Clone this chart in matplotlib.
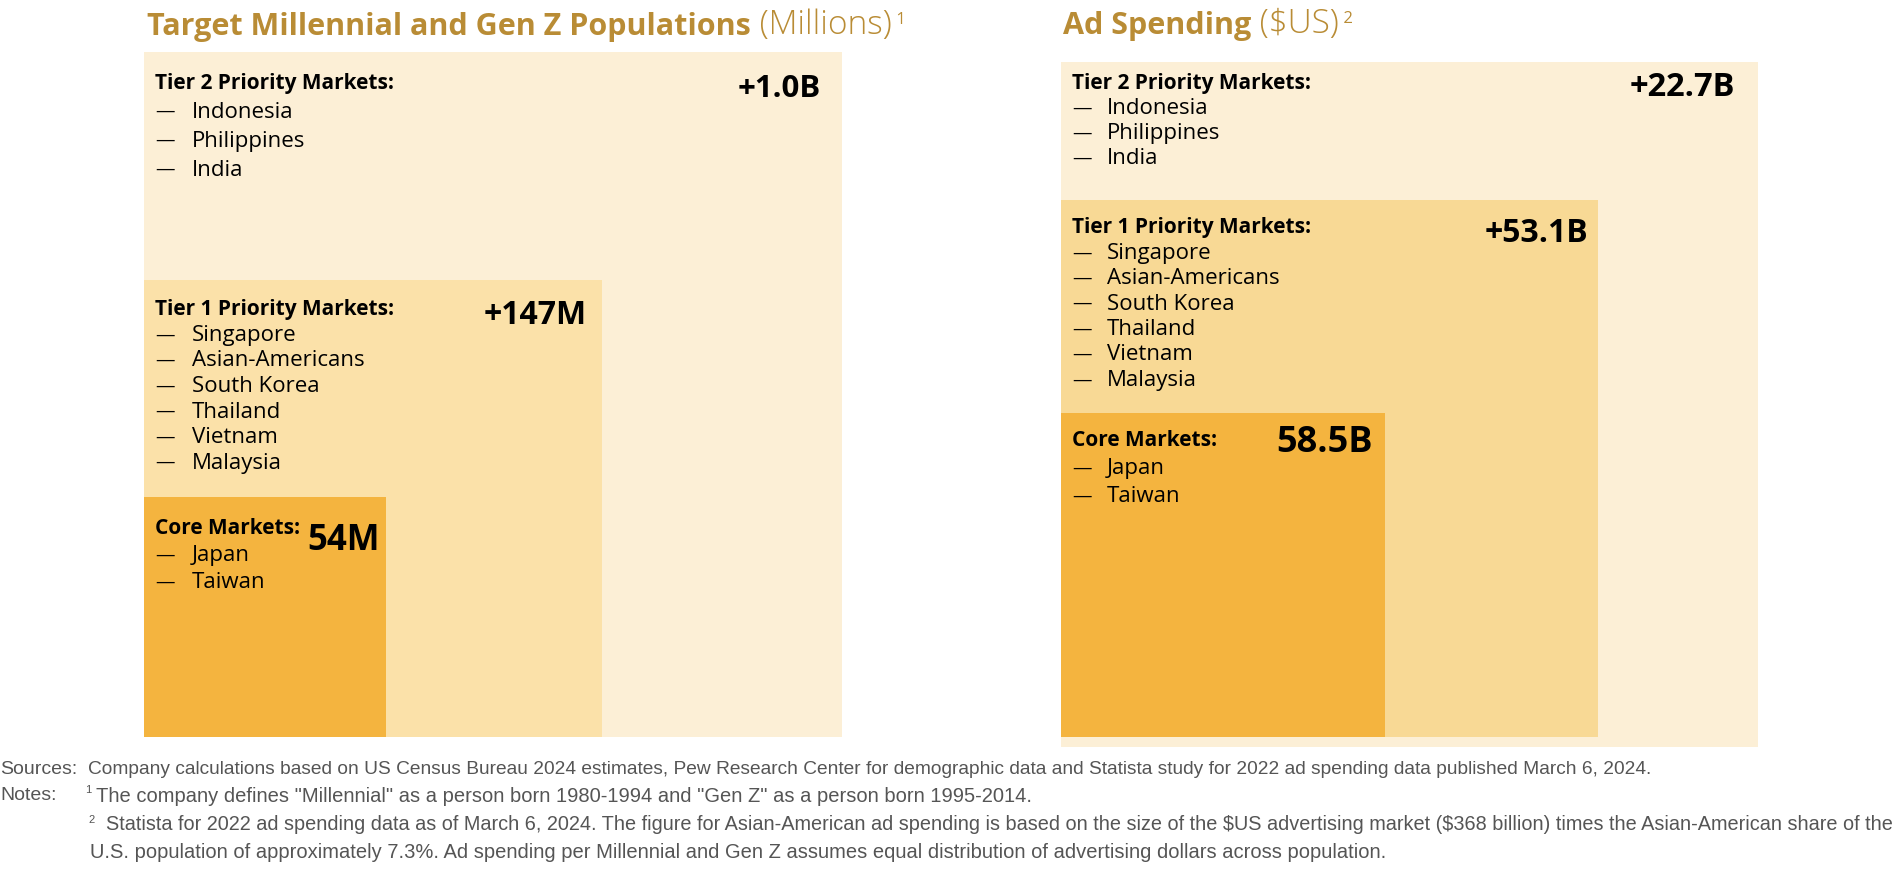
import matplotlib
matplotlib.use("Agg")
import matplotlib.pyplot as plt
from matplotlib.patches import Rectangle

# ---------------- data ----------------
tiers = ["Core Markets:", "Tier 1 Priority Markets:", "Tier 2 Priority Markets:"]
core_markets = ["Japan", "Taiwan"]
tier1_markets = ["Singapore", "Asian-Americans", "South Korea", "Thailand", "Vietnam", "Malaysia"]
tier2_markets = ["Indonesia", "Philippines", "India"]
pop_values = ["54M", "+147M", "+1.0B"]
ad_values = ["58.5B", "+53.1B", "+22.7B"]
pop_title = "Target Millennial and Gen Z Populations"
pop_unit = "(Millions)"
ad_title = "Ad Spending"
ad_unit = "($US)"
sources = ("Company calculations based on US Census Bureau 2024 estimates, Pew Research Center for demographic "
           "data and Statista study for 2022 ad spending data published March 6, 2024.")
note1 = "The company defines \"Millennial\" as a person born 1980-1994 and \"Gen Z\" as a person born 1995-2014."
note2a = ("Statista for 2022 ad spending data as of March 6, 2024. The figure for Asian-American ad spending is based "
          "on the size of the $US advertising market ($368 billion) times the Asian-American share of the")
note2b = ("U.S. population of approximately 7.3%. Ad spending per Millennial and Gen Z assumes equal distribution "
          "of advertising dollars across population.")

# ---------------- layout (pixels) ----------------
W, H = 1897, 869
fig = plt.figure(figsize=(W / 100, H / 100), dpi=100)
ax = fig.add_axes([0, 0, 1, 1])
ax.set_xlim(0, W)
ax.set_ylim(H, 0)
ax.axis("off")

TITLE_C = "#B98C35"
HEAD_F = "Open Sans"
BODY_F = "Open Sans"
NOTE_F = ["Liberation Sans", "DejaVu Sans"]

# boxes: (x0, y0, x1, y1) for core, tier1, tier2
pop_boxes = [(144, 497, 386, 737), (144, 280, 602, 737), (144, 52, 842, 737)]
ad_boxes = [(1061, 413, 1385, 737), (1061, 200, 1598, 737), (1061, 62, 1758, 747)]
pop_colors = ["#F4B43F", "#FBE1A9", "#FCEFD6"]
ad_colors = ["#F4B43F", "#F8D995", "#FCEFD6"]
markets = [core_markets, tier1_markets, tier2_markets]


def draw_panel(boxes, colors, values, value_sizes, head_y, val_y, val_x, spacings, name_dx):
    for i in [2, 1, 0]:
        x0, y0, x1, y1 = boxes[i]
        ax.add_patch(Rectangle((x0, y0), x1 - x0, y1 - y0, facecolor=colors[i],
                               edgecolor="none", zorder=3 - i))
    for i in range(3):
        x0 = boxes[i][0]
        hy = head_y[i]
        ax.text(x0 + 11, hy, tiers[i], fontsize=15, fontweight="bold", family=HEAD_F,
                va="center", ha="left", color="black", zorder=10)
        for k, m in enumerate(markets[i]):
            yy = hy + spacings[i] * (k + 1)
            ax.text(x0 + 11, yy, "—", fontsize=14, family=BODY_F, va="center",
                    ha="left", color="black", zorder=10)
            ax.text(x0 + name_dx, yy, m, fontsize=16, family=BODY_F, va="center",
                    ha="left", color="black", zorder=10)
        ax.text(val_x[i], val_y[i], values[i], fontsize=value_sizes[i], fontweight="bold",
                family=HEAD_F, va="center", ha="right", color="black", zorder=10)


draw_panel(pop_boxes, pop_colors, pop_values, [25, 23, 22.5],
           head_y=[528, 310, 83], val_y=[541, 316, 89], val_x=[380, 587, 821],
           spacings=[27.5, 25.5, 29], name_dx=48)
draw_panel(ad_boxes, ad_colors, ad_values, [26, 23, 23.5],
           head_y=[440, 228, 83], val_y=[443, 233, 88], val_x=[1373, 1588, 1735],
           spacings=[28.5, 25.4, 25.3], name_dx=46)


def title(x, y, bold, unit, sup):
    t1 = ax.text(x, y, bold, fontsize=22, fontweight="bold", family=HEAD_F,
                 color=TITLE_C, va="baseline", ha="left")
    t2 = ax.annotate(" " + unit, xy=(1, 0), xycoords=t1, fontsize=24, family=HEAD_F,
                     fontweight="light", color=TITLE_C, va="bottom", ha="left",
                     parse_math=False)
    ax.annotate(" " + sup, xy=(1, 0.42), xycoords=t2, fontsize=12, family=HEAD_F,
                color=TITLE_C, va="bottom", ha="left")


title(147, 35, pop_title, pop_unit, "1")
title(1063, 34, ad_title, ad_unit, "2")

NC = "#555555"
kw = dict(family=NOTE_F, color=NC, va="center", parse_math=False)
ax.text(0, 770, "Sources:", fontsize=14, **kw)
ax.text(88, 770, sources, fontsize=13.8, **kw)
ax.text(0, 796, "Notes:", fontsize=14, **kw)
ax.text(85, 790, "1", fontsize=8, **kw)
ax.text(96, 796, note1, fontsize=14.5, **kw)
ax.text(88, 820, "2", fontsize=8, **kw)
ax.text(106, 825, note2a, fontsize=14.3, **kw)
ax.text(90, 853, note2b, fontsize=14.5, **kw)

fig.savefig("out.png", dpi=100, facecolor="white")
